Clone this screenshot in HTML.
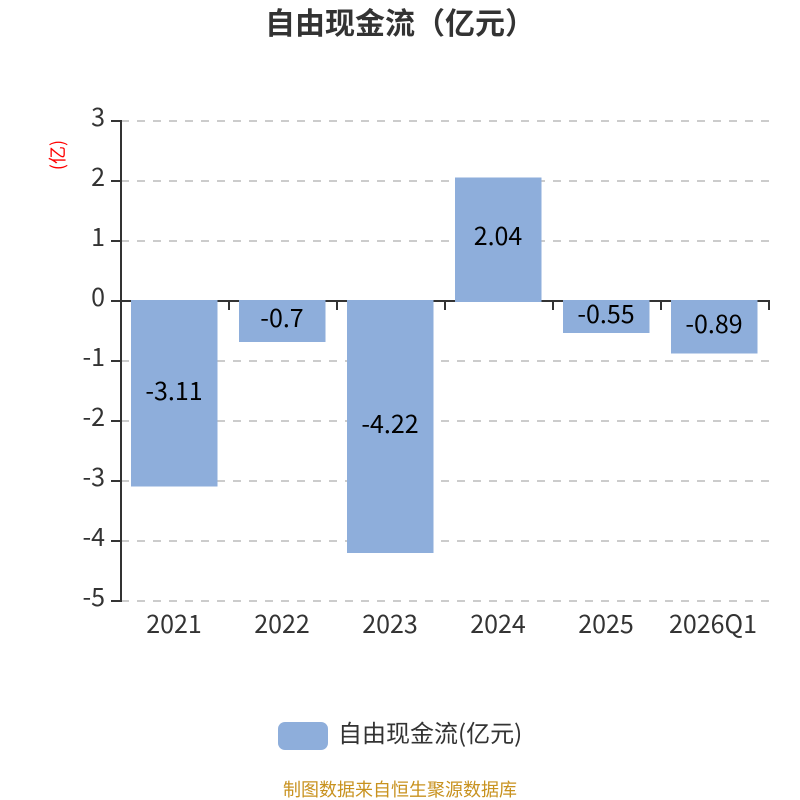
<!DOCTYPE html>
<html>
<head>
<meta charset="utf-8">
<style>
html,body{margin:0;padding:0;background:#fff;width:800px;height:800px;overflow:hidden}
svg{display:block}
text{font-family:"Noto Sans CJK SC","Liberation Sans",sans-serif}
</style>
</head>
<body>
<svg width="800" height="800" viewBox="0 0 800 800" xmlns="http://www.w3.org/2000/svg">
<text x="265" y="34" font-size="30" font-weight="700" fill="#333">自由现金流（亿元）</text>

<g stroke="#ccc" stroke-width="2" stroke-dasharray="8 8" fill="none">
<path d="M121 121H769M121 181H769M121 241H769M121 361H769M121 421H769M121 481H769M121 541H769M121 601H769"/>
</g>

<g fill="#8eaedb">
<rect x="131" y="300" width="86.500" height="186.500"/>
<rect x="239" y="300" width="86.500" height="42"/>
<rect x="347" y="300" width="86.500" height="253"/>
<rect x="455" y="177.500" width="86.500" height="123"/>
<rect x="563" y="300" width="86.500" height="33"/>
<rect x="671" y="300" width="86.500" height="53.500"/>
</g>

<g stroke="#333" stroke-width="2" fill="none">
<path d="M121 120V602"/>
<path d="M121 301H770"/>
<path d="M111 121H121M111 181H121M111 241H121M111 301H121M111 361H121M111 421H121M111 481H121M111 541H121M111 601H121"/>
<path d="M229 301V310M337 301V310M445 301V310M553 301V310M661 301V310M769 301V310"/>
</g>
<g fill="#8eaedb">
<rect x="131" y="300" width="86.500" height="2"/>
<rect x="239" y="300" width="86.500" height="2"/>
<rect x="347" y="300" width="86.500" height="2"/>
<rect x="455" y="299" width="86.500" height="3"/>
<rect x="563" y="300" width="86.500" height="2"/>
<rect x="671" y="300" width="86.500" height="2"/>
</g>

<g font-size="25" fill="#333" text-anchor="end">
<text x="105" y="126">3</text>
<text x="105" y="186">2</text>
<text x="105" y="246">1</text>
<text x="105" y="306">0</text>
<text x="105" y="366">-1</text>
<text x="105" y="426">-2</text>
<text x="105" y="486">-3</text>
<text x="105" y="546">-4</text>
<text x="105" y="606">-5</text>
</g>

<text transform="translate(59 155) rotate(-90)" text-anchor="middle" font-size="18" fill="#f00" dominant-baseline="middle">(亿)</text>

<g font-size="25" fill="#333" text-anchor="middle">
<text x="174" y="633">2021</text>
<text x="282" y="633">2022</text>
<text x="390" y="633">2023</text>
<text x="498" y="633">2024</text>
<text x="606" y="633">2025</text>
<text x="713" y="633">2026Q1</text>
</g>

<g font-size="25" fill="#000" text-anchor="middle">
<text x="174" y="400">-3.11</text>
<text x="282" y="327">-0.7</text>
<text x="390" y="433">-4.22</text>
<text x="498" y="245">2.04</text>
<text x="606" y="323">-0.55</text>
<text x="714" y="333">-0.89</text>
</g>

<rect x="278" y="722" width="50" height="28" rx="7" ry="7" fill="#8eaedb"/>
<text x="338" y="742" font-size="24" fill="#333">自由现金流(亿元)</text>
<text x="400" y="796" text-anchor="middle" font-size="18" fill="#c8921f">制图数据来自恒生聚源数据库</text>
</svg>
</body>
</html>
